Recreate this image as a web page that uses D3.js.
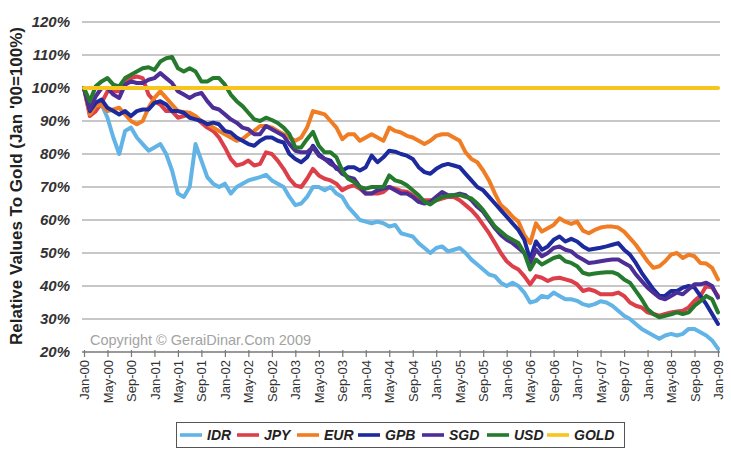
<!DOCTYPE html>
<html><head><meta charset="utf-8">
<script src="https://cdn.jsdelivr.net/npm/d3@7"></script>
<style>body{margin:0;background:#fff}svg{display:block}</style>
</head><body><svg id="c" width="731" height="454"></svg>
<script>
const tickLabels=["Jan-00","May-00","Sep-00","Jan-01","May-01","Sep-01","Jan-02","May-02","Sep-02","Jan-03","May-03","Sep-03","Jan-04","May-04","Sep-04","Jan-05","May-05","Sep-05","Jan-06","May-06","Sep-06","Jan-07","May-07","Sep-07","Jan-08","May-08","Sep-08","Jan-09"];
const yTicks=[20,30,40,50,60,70,80,90,100,110,120];
const seriesNames=["IDR","JPY","EUR","GPB","SGD","USD","GOLD"];
const IDR=[100,93,94,95,91,85,80,87,88,85,83,81,82,83,80,75,68,67,70,83,78,73,71,70,71,68,70,71,72,72.5,73,73.7,72,71,70,67,64.5,65,67,70,70,69,70,68,67,64,62,60,59.5,59,59.5,59,58,58.5,56,55.5,55,53,51.5,50,51.5,52,50.5,51,51.5,50,48,46.5,45,43.5,43,41,40,41,40,38,35,35.5,37,36.5,38,37,36,36,35.5,34.5,34,34.5,35.4,35,34,32.5,31,30,28.5,27,26,25,24,25,25.5,25,25.5,27,27,26,25,23.5,21];
const JPY=[100,91.5,93,95.5,99,99,99,102,103,103.5,103,98,96,95,93,93,91,91.5,92,91,89.5,88,87,85,82,78.5,76.5,77,78,76.5,77,80.5,80,78,75.5,72.5,70.5,70,72.5,75.5,73.5,72.5,72,71,69,70,70.5,69.5,68,68,68,68.5,70,69.5,68.8,68.6,67.5,66,66,66,66,66.5,67,67,66,64.5,63,61,58.5,56,53,50,47.5,46,45,43,40.5,43,42.5,41.5,42.3,42.5,42,41.5,40.5,38.5,39,38.5,37.5,37.5,37.5,38,37,35,34,33.5,32,31.5,31,31.5,32,32.3,32.5,33.5,35.5,37,40,39.5,37];
const EUR=[100,92,94.5,95,93,93.5,94,92,90,89,90,94,97,99,97,95,93,92.7,92.5,91.5,90,89,88,87,86,85,84,84.5,86,87,88.5,88.5,88,87,86,85,84,85,88,93,92.5,92,90,88,84.5,86,86,84,85,86,85,84,88,87,86.5,85.5,85,84,83,84,85.5,86,86,85,84,80.5,78.5,77.5,75,72,68,64.5,63,61,59.5,55.5,53,59,56.5,57.5,58.5,60.5,59.5,58.8,59.5,56.8,56,57,57.7,58,58,57.7,56.5,54.5,52.5,50,47.5,45.5,46,47.5,49.5,50,48.5,49.5,49,47,46.8,45.5,42];
const GPB=[100,93,95.5,96.5,94,93,92,93,91.5,93,93.5,93.5,95.5,96,95,93,93,92.5,91,90.5,90,89,89.5,89,87,86.5,85,84,83,82.5,84,85,85,84,83.5,80,78.5,77.5,79,82.5,80,78.5,78,75.5,75,76,76,75,76,79.5,77.5,79,81,80.7,80,79.5,78.5,76,74.5,74,75.5,76.5,77,76.5,76,74,72,70,69,67,65,63,61,59,57,54,48,53.5,51,52,54,55,53.5,54.3,53.5,52,51,51.3,51.6,52,52.5,53,51,49.5,47,44,41.5,39,37,37,38.5,38.5,39.5,40,39.5,37,34.5,31.5,28.5];
const SGD=[100,93.5,97.5,100,100,98,97,101,102,101.5,101.5,102.5,103,104.5,103,101.5,99,98,97,98,98.5,96,94,93.5,92,90.5,89.5,88,87.5,86,86,88.5,87.5,86.5,85.5,83,81,80.5,80.5,82,79.5,78.5,77,76,74,73,72.5,70,68,68,69,69.5,70,69,68,68,67,65.5,65,65.5,67,68.5,67.5,67.5,68,67.5,66,64,62.5,60,57.5,55.5,54,53,51.5,50,47,51,49,50,51.5,52,51,50.5,49,48,47,47.2,47.5,47.8,48,48,47,46,43.5,41.5,39.5,38,36.5,36,37,38,37.5,39,40.5,40.5,41,40,36.5];
const USD=[100,96,100.5,102,103,101,100.5,103,104,105,106,106.3,105.5,108,109,109.4,106,105,106,105,102,102,103,103,101,98,96,94.5,92.5,90.5,90,91,90.3,89.4,88,86,82,82,84.5,86.7,82.5,80.5,80.5,79,75,72.5,71.5,70,69.5,70,70,70,73.5,72,71.5,70.5,69,67.5,65.5,64.7,66,67,67.3,67.5,67.6,67,66.5,65,63,60.5,58,56.5,55,54,53,50,45,48,46.5,47.5,48.5,49,47.5,47,46,44,43.5,43.8,44,44.2,44.2,43.5,42,41,38.5,36,33,31.5,30.5,31,31.4,32,31.5,32,34,35.4,37,36,32];
const GOLD=[100,100,100,100,100,100,100,100,100,100,100,100,100,100,100,100,100,100,100,100,100,100,100,100,100,100,100,100,100,100,100,100,100,100,100,100,100,100,100,100,100,100,100,100,100,100,100,100,100,100,100,100,100,100,100,100,100,100,100,100,100,100,100,100,100,100,100,100,100,100,100,100,100,100,100,100,100,100,100,100,100,100,100,100,100,100,100,100,100,100,100,100,100,100,100,100,100,100,100,100,100,100,100,100,100,100,100,100,100];
const colors=["#62b3e6","#dc3f4a","#f07d24","#1c2a9e","#4c2e96","#267a2e","#f8c520"];

const seriesVals=[IDR,JPY,EUR,GPB,SGD,USD,GOLD];
const svg=d3.select("#c");
const x=d3.scaleLinear().domain([0,108]).range([84,718]);
const y=d3.scaleLinear().domain([20,120]).range([352,22]);

// gridlines
svg.append("g").selectAll("line").data(yTicks.filter(d=>d>20)).join("line")
  .attr("x1",82).attr("x2",720).attr("y1",d=>y(d)).attr("y2",d=>y(d))
  .attr("stroke","#b4b4b4").attr("stroke-width",1.5);

// y axis labels
const ya=svg.append("g").attr("transform","translate(72,0)")
  .call(d3.axisLeft(y).tickValues(yTicks).tickFormat(d=>d+"%").tickSize(0));
ya.select(".domain").remove();
ya.selectAll("text").attr("font-family","Liberation Sans, Arial, sans-serif")
  .attr("font-size","15px").attr("font-weight","bold").attr("font-style","italic")
  .attr("fill","#333").attr("x",-2);

// copyright
svg.append("text").attr("x",90).attr("y",345).text("Copyright © GeraiDinar.Com 2009")
  .attr("font-family","Liberation Sans, Arial, sans-serif").attr("font-size","14.5px").attr("fill","#a3a3a3");

// lines
const line=d3.line().x((d,i)=>x(i)).y(d=>y(d));
svg.append("g").selectAll("path").data(seriesVals).join("path")
  .attr("d",d=>line(d)).attr("fill","none")
  .attr("stroke",(d,i)=>colors[i]).attr("stroke-width",4)
  .attr("stroke-linejoin","round").attr("stroke-linecap","round");

// x axis
const tickIdx=tickLabels.map((d,i)=>i*4);
const xa=svg.append("g").attr("transform","translate(0,352)")
  .call(d3.axisBottom(x).tickValues(tickIdx).tickFormat((d,i)=>tickLabels[i]).tickSizeInner(5).tickSizeOuter(0));
xa.select(".domain").attr("stroke","#777").attr("stroke-width",1.5).attr("d","M82,0H720");
xa.selectAll(".tick line").attr("stroke","#777").attr("stroke-width",1.2).attr("y1",-2);
xa.selectAll("text").attr("font-family","Liberation Sans, Arial, sans-serif").attr("font-size","13px")
  .attr("fill","#333").attr("text-anchor","end")
  .attr("transform","rotate(-90)").attr("x",-8).attr("y",0).attr("dy","0.35em");

// y title
svg.append("text").attr("transform","translate(22,186) rotate(-90)").attr("text-anchor","middle")
  .attr("font-family","Liberation Sans, Arial, sans-serif").attr("font-size","17px").attr("font-weight","bold")
  .attr("fill","#222").text("Relative Values To Gold (Jan '00=100%)");

// legend
const lg=svg.append("g");
lg.append("rect").attr("x",176.5).attr("y",422.5).attr("width",448).attr("height",25)
  .attr("fill","#fff").attr("stroke","#555").attr("stroke-width",1);
const lineX=[180,237,297,358,422,487,547];
const items=lg.selectAll("g.it").data(seriesNames).join("g").attr("class","it")
  .attr("transform",(d,i)=>`translate(${lineX[i]},435)`);
items.append("line").attr("x1",0).attr("x2",22).attr("stroke",(d,i)=>colors[i]).attr("stroke-width",3.6);
items.append("text").attr("x",27).attr("dy","0.36em").text(d=>d)
  .attr("font-family","Liberation Sans, Arial, sans-serif").attr("font-size","14px")
  .attr("font-weight","bold").attr("font-style","italic").attr("fill","#222");
</script></body></html>
